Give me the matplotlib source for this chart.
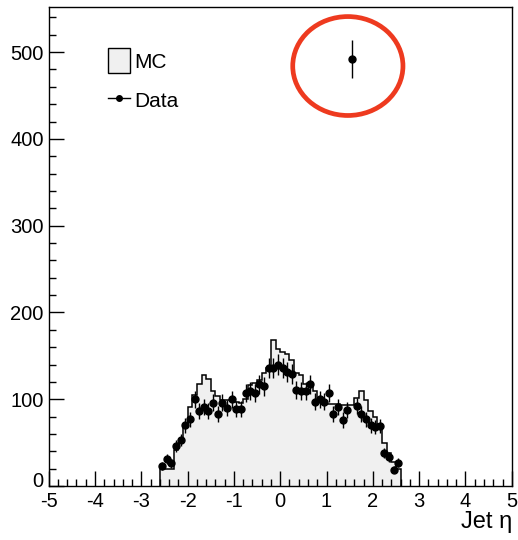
import matplotlib
matplotlib.use("Agg")
import matplotlib.pyplot as plt
import numpy as np
from matplotlib.patches import Patch, Ellipse
from matplotlib.lines import Line2D
from matplotlib.ticker import MultipleLocator, FuncFormatter

plt.rcParams['font.family'] = ['Liberation Sans', 'DejaVu Sans']
plt.rcParams['axes.unicode_minus'] = False

# bin edges of the jet eta histogram (0.1 wide, -2.6 .. 2.6)
edges = np.round(np.arange(-2.6, 2.61, 0.1), 2)

# MC expectation per bin
mc = [20, 20, 20, 41, 50, 68, 91, 105, 118, 128,
      123, 110, 104, 99, 99, 99, 97, 96, 100, 116,
      119, 122, 130, 136, 168, 158, 155, 152, 145, 130,
      128, 118, 118, 109, 101, 95, 95, 95, 95, 93,
      93, 93, 101, 110, 99, 86, 80, 72, 50, 38,
      28, 20]

# data per bin (the 1.55 bin is the odd one)
data = [23, 31, 26, 46, 53, 70, 77, 100, 86, 91,
        86, 96, 83, 96, 90, 100, 89, 89, 107, 109,
        107, 117, 115, 136, 136, 140, 136, 131, 129, 111,
        109, 109, 117, 97, 100, 97, 107, 83, 91, 76,
        88, 492, 92, 83, 77, 70, 68, 69, 38, 33,
        19, 27]

centers = (edges[:-1] + edges[1:]) / 2
data = np.array(data)

fig = plt.figure(figsize=(5.18, 5.40), dpi=100)
ax = fig.add_axes([0.094, 0.1, 0.894, 0.887])

ax.stairs(mc, edges, fill=True, color='#f0f0f0', zorder=1)
ax.stairs(mc, edges, color='black', lw=1.1, zorder=2)
ax.errorbar(centers, data, yerr=np.sqrt(data), fmt='o', color='black',
            ms=5, elinewidth=1.0, capsize=0, zorder=3)

# red circle around the odd point
ax.add_patch(Ellipse((1.46, 484), 2.38, 114, fill=False, edgecolor='#ee3a1f',
                     lw=3.4, zorder=4))

ax.set_xlim(-5, 5)
ax.set_ylim(0, 552)
ax.xaxis.set_major_locator(MultipleLocator(1))
ax.xaxis.set_minor_locator(MultipleLocator(0.2))
ax.yaxis.set_major_locator(MultipleLocator(100))
ax.yaxis.set_minor_locator(MultipleLocator(20))
# the "0" on the y axis is written by hand a bit higher so it clears the "-5"
ax.yaxis.set_major_formatter(FuncFormatter(lambda v, p: '' if v == 0 else f'{v:.0f}'))
ax.tick_params(which='both', direction='in', top=False, right=False,
               labelsize=14.5, width=1)
ax.tick_params(which='major', length=10.5)
ax.tick_params(which='minor', length=5)
ax.tick_params(axis='x', pad=4.5)
ax.tick_params(axis='y', pad=3.5)
for s in ax.spines.values():
    s.set_linewidth(1.0)
ax.annotate('0', xy=(0, 0), xycoords='axes fraction', xytext=(-3.5, 3.5),
            textcoords='offset points', ha='right', va='center', fontsize=14.5)

ax.set_xlabel('Jet η', fontsize=17, loc='right', labelpad=0)

handles = [Patch(facecolor='#f0f0f0', edgecolor='black', lw=1.0),
           Line2D([], [], color='black', marker='o', ms=4, lw=1.0)]
ax.legend(handles, ['MC', 'Data'], loc='upper left', bbox_to_anchor=(0.128, 0.914),
          frameon=False, fontsize=15, handlelength=1.04, handleheight=1.48,
          handletextpad=0.2, labelspacing=0.7, borderpad=0, borderaxespad=0)

fig.savefig('out.png', dpi=100)
